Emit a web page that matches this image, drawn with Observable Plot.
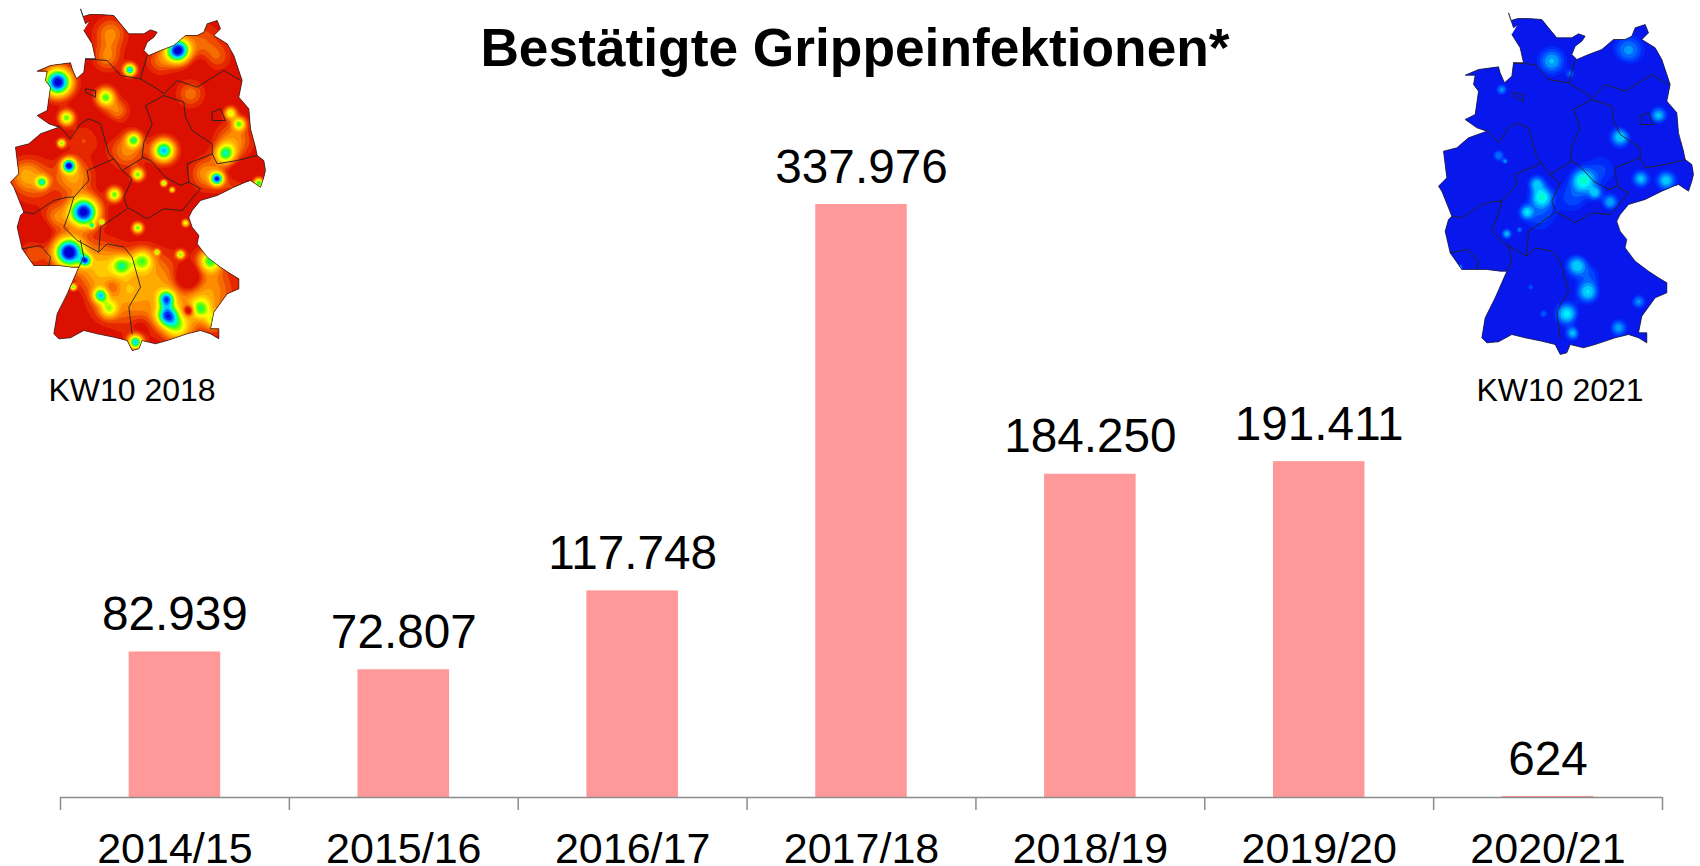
<!DOCTYPE html>
<html><head><meta charset="utf-8">
<script src="https://cdn.jsdelivr.net/npm/d3@7"></script>
<script src="https://cdn.jsdelivr.net/npm/@observablehq/plot@0.6"></script>
<style>
html,body{margin:0;padding:0;background:#fff;overflow:hidden}
#page{position:relative;width:1700px;height:866px;font-family:"Liberation Sans",Arial,sans-serif;color:#000}
#page svg{position:absolute;background:transparent}
.t{position:absolute;white-space:nowrap;text-align:center;transform:translateX(-50%);line-height:1}
</style></head><body><div id="page"></div>
<script>
const seasons = ["2014/15","2015/16","2016/17","2017/18","2018/19","2019/20","2020/21"];
const infections = [82939,72807,117748,337976,184250,191411,624];
const labels = ["82.939","72.807","117.748","337.976","184.250","191.411","624"];
const titleText = "Bestätigte Grippeinfektionen*";
const mapCaptions = ["KW10 2018","KW10 2021"];

// Germany outline and state borders (map picture coordinates)
const outline = [[268,60],[255,70],[240,25],[248,48],[268,42],[300,42],[340,45],[360,70],[385,100],[430,100],[450,88],[470,95],[460,110],[440,125],[430,150],[445,165],[480,150],[520,135],[555,105],[590,105],[610,95],[620,70],[650,60],[660,85],[640,105],[680,130],[700,165],[715,210],[725,240],[715,290],[745,325],[750,385],[765,440],[770,465],[790,480],[795,510],[790,530],[780,560],[750,540],[735,545],[700,560],[650,585],[600,600],[575,630],[565,650],[575,680],[595,705],[590,730],[620,770],[660,800],[690,820],[715,835],[715,865],[680,880],[640,935],[630,985],[655,985],[655,1015],[630,1000],[600,990],[560,1000],[500,1020],[465,1030],[425,1020],[415,1045],[395,1050],[380,1020],[340,1010],[290,1000],[250,990],[210,1012],[175,1015],[160,1000],[170,940],[200,880],[235,800],[215,800],[175,795],[140,795],[100,795],[65,745],[50,680],[60,645],[70,635],[40,560],[30,545],[55,520],[45,440],[85,430],[120,400],[175,380],[145,370],[110,345],[140,330],[150,260],[135,240],[140,212],[110,212],[150,195],[210,187],[215,205],[228,235],[250,215],[255,175],[285,175],[275,130],[250,90]];
const borders = [
 [[255,175],[320,180],[360,225],[420,235],[440,165]],
 [[420,235],[470,265],[490,280],[530,240],[590,260],[670,210],[720,240]],
 [[490,285],[435,315],[455,370],[430,425],[425,470],[450,480],[495,530],[540,555],[565,545],[560,490],[635,460],[635,430],[575,390],[555,350],[550,305],[490,285]],
 [[635,335],[660,325],[675,360],[635,360],[635,335]],
 [[635,460],[650,490],[710,480],[770,465]],
 [[565,545],[600,565],[545,630]],
 [[365,510],[430,470]],
 [[545,630],[490,625],[440,655],[380,620],[370,590],[395,535],[365,510],[340,475],[260,510],[265,540],[220,590],[205,640],[190,680],[230,720],[295,755],[300,680],[380,625]],
 [[175,375],[210,415],[240,370],[265,355],[300,370],[325,460],[340,475]],
 [[70,635],[100,640],[160,600],[200,590],[220,590]],
 [[65,745],[120,735],[150,770],[145,795]],
 [[235,800],[250,770],[240,720]],
 [[295,755],[320,730],[370,740],[395,770],[420,860],[385,920],[395,1000]],
 [[255,265],[285,270],[285,290],[255,275],[255,265]]
];

// [x, y, radius, strength] hot spots
const spots2018 = [[532,150,26,1.1],[172,245,30,1.12],[388,208,13,.85],[205,495,15,1],[250,635,32,1.12],[205,755,32,1.15],[498,895,18,.72],[500,945,24,.8],[405,1025,16,.8],[490,450,24,.85],[650,535,14,.92],[315,290,20,.62],[198,352,16,.62],[183,428,9,.58],[125,545,13,.6],[400,418,16,.58],[412,522,13,.6],[490,548,7,.6],[515,568,6,.5],[342,582,15,.62],[675,460,22,.64],[690,338,13,.5],[716,370,14,.55],[775,548,11,.7],[412,682,11,.62],[555,668,8,.5],[540,762,9,.55],[470,755,6,.5],[630,780,24,.6],[218,860,7,.6],[300,885,16,.65],[325,925,20,.4],[365,795,22,.48],[425,780,24,.48],[600,925,22,.42],[530,980,30,.45],[275,676,6,.5],[305,665,6,.5],[255,780,12,.68],[640,960,18,.38],
[350,330,25,.2],[380,450,50,.22],[320,170,30,.2],[330,100,45,.22],[570,280,30,.18],[700,420,50,.24],[620,520,45,.25],[220,530,50,.28],[100,540,60,.2],[300,800,70,.32],[450,850,90,.27],[600,900,90,.24],[620,840,70,.1],[420,960,60,.1],[330,900,70,.14],[170,650,40,.2],[100,760,30,.14],[600,130,60,.16],[650,170,30,.12],[480,180,30,.17],[380,870,40,.08],[70,520,30,.15],[250,420,35,.1],[700,560,30,.1],
[565,835,42,-.35],[565,930,12,-.4],[335,860,20,-.15],[125,690,25,-.08],[600,185,30,-.08],[325,385,22,-.08],[515,690,25,-.08],[205,900,25,-.1],[715,510,25,-.08],[420,975,25,-.12]];
const spots2021 = [[600,138,25,.45],[370,170,22,.55],[425,208,8,.3],[220,256,10,.5],[690,333,14,.6],[575,398,16,.7],[210,453,10,.4],[230,470,5,.45],[465,528,20,.95],[500,565,12,.6],[545,593,14,.55],[637,523,14,.6],[713,528,16,.65],[325,538,14,.6],[340,578,18,.9],[295,623,12,.65],[515,498,30,.18],[435,578,45,.24],[335,628,30,.24],[235,688,8,.6],[273,676,5,.4],[445,783,18,.7],[478,863,18,.7],[485,813,25,.25],[415,928,18,.8],[433,986,12,.6],[570,970,14,.5],[630,891,12,.45],[345,928,7,.3],[307,848,5,.3],[95,788,4,.6],
[125,468,35,-.15],[120,548,25,-.15],[575,213,35,-.15],[235,318,70,-.15],[365,388,70,-.15],[705,408,50,-.15],[615,348,25,-.15],[515,708,90,-.15],[575,838,60,-.15],[485,968,30,-.15],[245,918,40,-.1],[115,678,45,-.15],[205,978,25,-.1]];

const thresholds2018 = [-.03,.05,.1,.15,.2,.26,.32,.38,.44,.5,.56,.62,.68,.74,.8,.88,.96,1.05];
const colors2018 = ["#c00c04","#dc1000","#e62800","#ee4a00","#f56c00","#ff8c00","#ffaa00","#ffc800","#ffe400","#ffff00","#b8ff00","#70ff00","#30ff30","#00ff90","#00ffe0","#00c8ff","#0080ff","#0030f0","#0000d0"];
const thresholds2021 = [-.05,.08,.16,.26,.38,.52,.7,.88];
const colors2021 = ["#0000d0","#0818ec","#0028f8","#0044ff","#0068ff","#0098ff","#00c8ff","#00f0ff","#00ffc8"];

const page = document.getElementById("page");
const font = '"Liberation Sans",Arial,sans-serif';

// --- bar chart ---
const rows = seasons.map((s,i)=>({season:s,value:infections[i],label:labels[i]}));
const left = 60, right = 1662, step = (right-left)/seasons.length;
const chart = Plot.plot({
  width:1700,height:866,marginLeft:left,marginRight:1700-right,marginTop:0,marginBottom:69,
  style:{background:"transparent",fontFamily:font,color:"#000"},
  x:{domain:seasons,paddingInner:.6,paddingOuter:.3,align:.5,round:false,label:null},
  y:{domain:[0,337976],range:[797,204],axis:null},
  marks:[
    Plot.barY(rows,{x:"season",y:"value",fill:"#ff9999"}),
    Plot.ruleY([0],{stroke:"#8c8c8c",strokeWidth:1.5}),
    Plot.ruleX(seasons,{x:d=>d,y1:0,y2:-7400,dx:-step/2,stroke:"#8c8c8c",strokeWidth:1.5}),
    Plot.ruleX(seasons.slice(-1),{x:d=>d,y1:0,y2:-7400,dx:step/2,stroke:"#8c8c8c",strokeWidth:1.5}),
    Plot.text(rows,{x:"season",y:"value",text:"label",fontSize:47.7,dy:-37,fill:"#000"}),
    Plot.axisX({tickSize:0,tickPadding:35,fontSize:43,label:null,fill:"#000"})
  ]
});
chart.style.left="0";chart.style.top="0";
page.appendChild(chart);

// --- maps ---
function gaussField(spots,spread){
  return (x,y)=>{let v=0;for(const [a,b,r0,s] of spots){const r=r0<40?r0*spread:r0,dx=x-a,dy=y-b;v+=s*Math.exp(-(dx*dx+dy*dy)/(r*r));}return v;};
}
function drawMap(spots,thresholds,colors,left,top,id,spread){
  const borderRows = borders.flatMap((b,i)=>b.map(([x,y])=>({x,y,i})));
  const outlineRows = outline.map(([x,y])=>({x,y}));
  const p = Plot.plot({
    width:300,height:420,margin:0,
    style:{background:"transparent"},
    x:{domain:[0,900],range:[0,300],axis:null},
    y:{domain:[0,1260],range:[0,420],axis:null},
    color:{type:"threshold",domain:thresholds,range:colors},
    marks:[
      Plot.line(outlineRows,{x:"x",y:"y",fill:colors[1],stroke:"none",curve:"linear"}),
      Plot.contour({x1:0,y1:0,x2:900,y2:1260,value:gaussField(spots,spread),thresholds,fill:"value",stroke:"none",pixelSize:1}),
      Plot.line(borderRows,{x:"x",y:"y",z:"i",stroke:"#222",strokeWidth:.9,fill:"none",curve:"linear"}),
      Plot.line(outlineRows,{x:"x",y:"y",stroke:"#222",strokeWidth:.7,fill:"none",curve:"linear"})
    ]
  });
  p.style.left=left+"px";p.style.top=top+"px";p.style.filter="blur(.6px)";
  page.appendChild(p);
  const d = p.querySelector('[aria-label="line"] path').getAttribute("d");
  const ns="http://www.w3.org/2000/svg";
  const defs=document.createElementNS(ns,"defs"),cp=document.createElementNS(ns,"clipPath"),pa=document.createElementNS(ns,"path");
  cp.setAttribute("id","clip-"+id);pa.setAttribute("d",d);cp.appendChild(pa);defs.appendChild(cp);p.appendChild(defs);
  p.querySelector('[aria-label="contour"]').setAttribute("clip-path","url(#clip-"+id+")");
}
drawMap(spots2018,thresholds2018,colors2018,0,0,"a",1.3);
drawMap(spots2021,thresholds2021,colors2021,1428,4,"b",1.5);

// --- text ---
function addText(txt,cx,base,size,weight){
  const e=document.createElement("div");e.className="t";e.textContent=txt;
  e.style.left=cx+"px";e.style.top=(base-size*.85)+"px";
  e.style.fontSize=size+"px";e.style.fontWeight=weight||400;
  page.appendChild(e);
}
addText(titleText,855,66,53.3,700);
addText(mapCaptions[0],132,401,32);
addText(mapCaptions[1],1560,401,32);
</script></body></html>
